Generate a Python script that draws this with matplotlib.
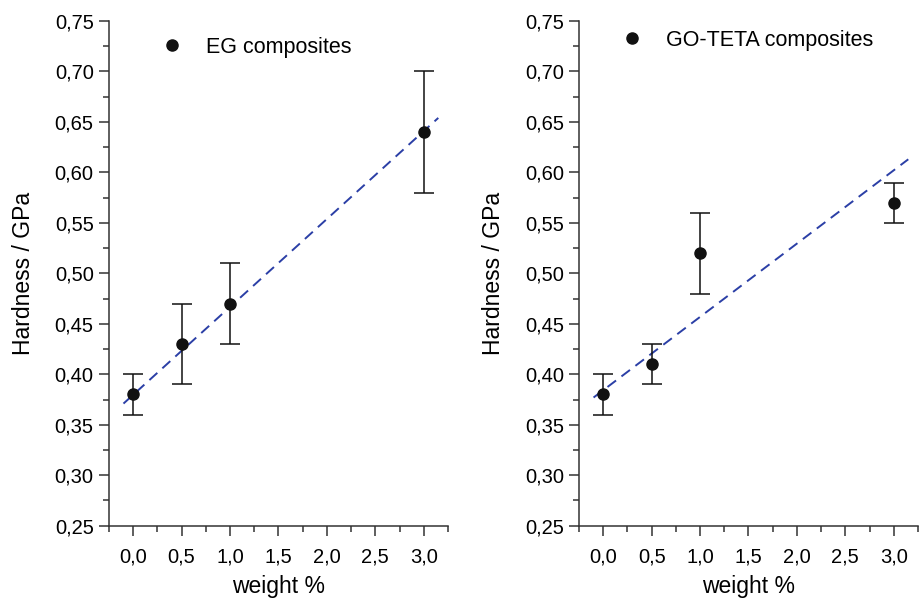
import matplotlib
matplotlib.use('Agg')
import matplotlib.pyplot as plt
from matplotlib.lines import Line2D
from matplotlib.ticker import MultipleLocator, FuncFormatter

plt.rcParams['font.family'] = ['Liberation Sans', 'DejaVu Sans']

weight = [0.0, 0.5, 1.0, 3.0]

eg_hardness = [0.38, 0.43, 0.47, 0.64]
eg_err = [0.02, 0.04, 0.04, 0.06]

go_hardness = [0.38, 0.41, 0.52, 0.57]
go_err = [0.02, 0.02, 0.04, 0.02]

# fitted lines, endpoints
fit_x = [-0.1, 3.15]
eg_fit = [0.371, 0.654]
go_fit = [0.377, 0.613]

labels = ['EG composites', 'GO-TETA composites']

comma = FuncFormatter(lambda v, p: ('%.2f' % v).replace('.', ','))
comma1 = FuncFormatter(lambda v, p: ('%.1f' % v).replace('.', ','))

fig = plt.figure(figsize=(9.21, 6), dpi=100)
ax1 = fig.add_axes([0.1183, 0.1238, 0.3681, 0.8412])
ax2 = fig.add_axes([0.6287, 0.1238, 0.3680, 0.8412])

panels = [(ax1, eg_hardness, eg_err, eg_fit, labels[0], (0.154, 0.948)),
          (ax2, go_hardness, go_err, go_fit, labels[1], (0.1245, 0.962))]

for ax, h, e, f, lab, leg_pos in panels:
    ax.plot(fit_x, f, color='#2b3fa6', lw=1.4, dashes=(5.5, 3.5))
    ax.errorbar(weight, h, yerr=e, fmt='o', color='#111111', ms=8,
                ecolor='#111111', elinewidth=1.1, capsize=7.5, capthick=1.1)
    ax.set_xlim(-0.25, 3.25)
    ax.set_ylim(0.25, 0.75)
    ax.xaxis.set_major_locator(MultipleLocator(0.5))
    ax.xaxis.set_minor_locator(MultipleLocator(0.25))
    ax.yaxis.set_major_locator(MultipleLocator(0.05))
    ax.yaxis.set_minor_locator(MultipleLocator(0.025))
    ax.xaxis.set_major_formatter(comma1)
    ax.yaxis.set_major_formatter(comma)
    for s in ['top', 'right']:
        ax.spines[s].set_visible(False)
    for s in ['left', 'bottom']:
        ax.spines[s].set_color('#333333')
        ax.spines[s].set_linewidth(1.1)
    ax.tick_params(which='major', direction='out', length=7, width=1.1,
                   color='#333333', labelsize=14.5, pad=4)
    ax.tick_params(which='minor', direction='out', length=4, width=1.1,
                   color='#333333')
    ax.tick_params(axis='x', which='major', pad=9)
    ax.set_xlabel('weight %', fontsize=16.5, labelpad=6)
    ax.set_ylabel('Hardness / GPa', fontsize=16.5, labelpad=14)
    handle = Line2D([], [], marker='o', ls='none', color='#111111', ms=8)
    ax.legend([handle], [lab], loc='center left', bbox_to_anchor=leg_pos,
              frameon=False, fontsize=15.5, handlelength=1.0,
              handletextpad=1.1, borderpad=0, borderaxespad=0)

fig.savefig('out.png', dpi=100)
